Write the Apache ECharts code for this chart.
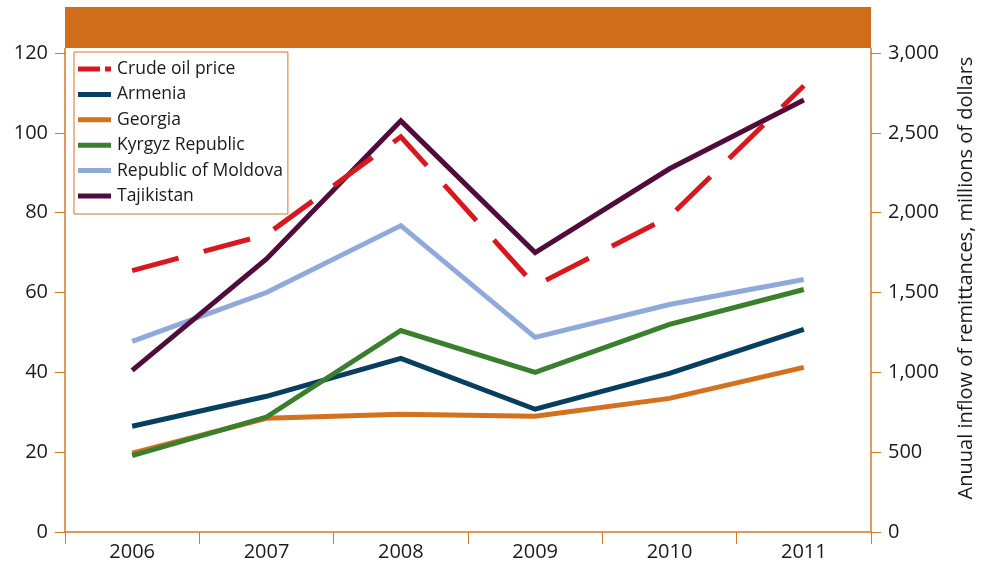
<!DOCTYPE html>
<html><head><meta charset="utf-8">
<script src="https://cdn.jsdelivr.net/npm/echarts@6/dist/echarts.min.js"></script>
<style>html,body{margin:0;padding:0;background:#fff}#c{width:983px;height:565px}</style>
</head><body><div id="c"></div>
<script>
const years = ['2006','2007','2008','2009','2010','2011'];
const crudeOil = [65.5, 74.5, 99, 61.7, 79, 111.8];
const armenia = [662, 850, 1087, 769, 994, 1269];
const georgia = [494, 712, 737, 725, 837, 1031];
const kyrgyz = [478, 720, 1262, 1000, 1300, 1519];
const moldova = [1194, 1500, 1919, 1219, 1425, 1581];
const tajikistan = [1012, 1710, 2575, 1750, 2275, 2706];
const leftTicks = {min: 0, max: 120, interval: 20};
const rightTicks = {min: 0, max: 3000, interval: 500};

const FONT = 'Open Sans';
const AXIS = '#d4782a';
const chart = echarts.init(document.getElementById('c'), null, {renderer: 'canvas'});
function line(name, data, color, yIdx, dashed) {
  return {
    name, type: 'line', data, yAxisIndex: yIdx, showSymbol: false, symbol: 'none',
    lineStyle: {color, width: 5, type: dashed ? [48, 26] : 'solid', cap: 'butt', join: 'miter'},
    itemStyle: {color}, z: dashed ? 3 : 2, animation: false
  };
}
const names = ['Crude oil price', 'Armenia', 'Georgia', 'Kyrgyz Republic', 'Republic of Moldova', 'Tajikistan'];
chart.setOption({
  animation: false,
  grid: {left: 65, right: 112, top: 53, bottom: 33, containLabel: false},
  legend: {
    orient: 'vertical', left: 74, top: 52, itemWidth: 33, itemHeight: 5, itemGap: 7.4,
    padding: [8, 5, 9, 4], borderColor: AXIS, borderWidth: 1, backgroundColor: '#fff',
    textStyle: {fontFamily: FONT, fontSize: 17.5, color: '#1a1a1a', padding: [0, 0, 0, 1]},
    data: names.map((n, i) => ({name: n,
      icon: i === 0 ? 'path://M0,0H22V5H0Z M27,0H33V5H27Z' : 'rect'}))
  },
  xAxis: {
    type: 'category', data: years, boundaryGap: true,
    axisLine: {lineStyle: {color: AXIS, width: 1.5}},
    axisTick: {show: true, inside: false, length: 12, lineStyle: {color: AXIS}},
    axisLabel: {fontFamily: FONT, fontSize: 20, color: '#1a1a1a', margin: 10},
    splitLine: {show: false}
  },
  yAxis: [
    {type: 'value', position: 'left', min: leftTicks.min, max: leftTicks.max, interval: leftTicks.interval,
     axisLine: {show: true, lineStyle: {color: AXIS, width: 1.5}},
     axisTick: {show: true, length: 10, lineStyle: {color: AXIS}},
     axisLabel: {fontFamily: FONT, fontSize: 20, color: '#1a1a1a', margin: 17},
     splitLine: {show: false}},
    {type: 'value', position: 'right', min: rightTicks.min, max: rightTicks.max, interval: rightTicks.interval,
     axisLine: {show: true, lineStyle: {color: AXIS, width: 1.5}},
     axisTick: {show: true, length: 10, lineStyle: {color: AXIS}},
     axisLabel: {fontFamily: FONT, fontSize: 20, color: '#1a1a1a', margin: 17,
       formatter: v => v.toLocaleString('en-US')},
     splitLine: {show: false}}
  ],
  graphic: [
    {type: 'rect', shape: {x: 65, y: 7, width: 806, height: 41}, style: {fill: '#cf6d1a'}, z: 10},
    {type: 'line', shape: {x1: 65, y1: 48, x2: 65, y2: 53}, style: {stroke: AXIS, lineWidth: 1.5}},
    {type: 'line', shape: {x1: 871, y1: 48, x2: 871, y2: 53}, style: {stroke: AXIS, lineWidth: 1.5}},
    {type: 'text', x: 966, y: 278, rotation: Math.PI / 2,
     style: {text: 'Anuual inflow of remittances, millions of dollars', fontFamily: FONT, fontSize: 20,
       fill: '#1a1a1a', align: 'center', verticalAlign: 'middle'}}
  ],
  series: [
    line('Crude oil price', crudeOil, '#d7191f', 0, true),
    line('Armenia', armenia, '#063f5f', 1),
    line('Georgia', georgia, '#d4711f', 1),
    line('Kyrgyz Republic', kyrgyz, '#3a7f2e', 1),
    line('Republic of Moldova', moldova, '#8fa9da', 1),
    line('Tajikistan', tajikistan, '#500d3c', 1)
  ]
});
</script></body></html>
